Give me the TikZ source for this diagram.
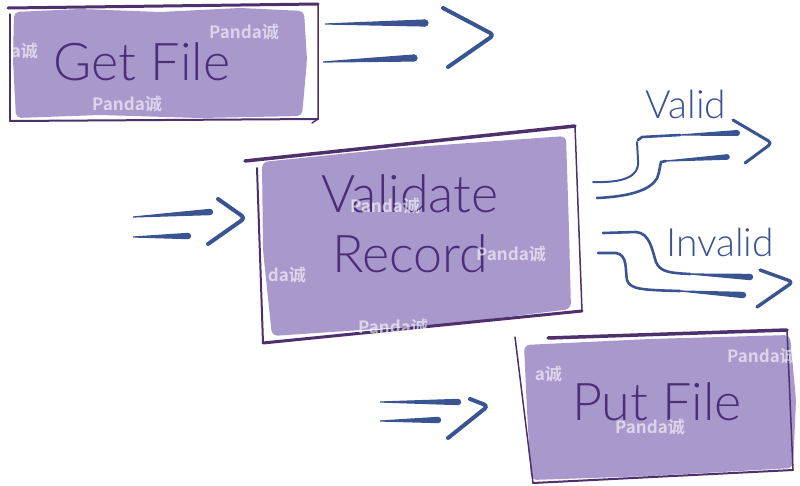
\documentclass[tikz,border=0pt]{standalone}
\usepackage{fontspec}
\usetikzlibrary{calc}
\newfontfamily\lab{Lato Light}
\newfontfamily\wm{Noto Sans CJK SC Bold}
\definecolor{boxfill}{RGB}{168,152,203}
\definecolor{boxline}{RGB}{78,48,108}
\definecolor{textpurple}{RGB}{74,46,120}
\definecolor{arrowblue}{RGB}{58,84,145}
\newcommand\taperline[3]{%
  \fill[arrowblue] ($(#1)+(0,-0.6)$) -- ($(#2)+(0,-#3)$) -- ($(#2)+(0,#3)$) -- ($(#1)+(0,0.6)$) -- cycle;
  \fill[arrowblue] (#2) circle[radius=#3];}
\begin{document}
\begin{tikzpicture}[x=1pt,y=-1pt,
  lbl/.style={text=textpurple, font=\lab\fontsize{52}{54}\selectfont, inner sep=0},
  small/.style={text=arrowblue, font=\lab\fontsize{39}{42}\selectfont, inner sep=0},
  edge/.style={draw=boxline, line cap=round, line join=round},
  chev/.style={draw=arrowblue, line width=4, line cap=round, line join=round, rounded corners=4},
  wave/.style={draw=arrowblue, line width=2.6, line cap=round},
  wmark/.style={text=white, opacity=0.6, font=\wm\fontsize{17}{19}\selectfont, inner sep=0}]
\useasboundingbox[fill=white] (0,0) rectangle (800,485);

% ---------- fills ----------
\fill[boxfill, rounded corners=5] (14,12) -- (80,9) -- (160,12) -- (240,8) -- (304,11) -- (307,60) -- (302,116) -- (200,118) -- (100,115) -- (16,118) -- (13,60) -- cycle;
\fill[boxfill, rounded corners=6] (262,162) -- (400,148) -- (566,136) -- (569,230) -- (571,309) -- (450,324) -- (272,336) -- (263,250) -- cycle;
\fill[boxfill, rounded corners=6] (524,345) -- (650,339) -- (790,335) -- (796,400) -- (793,468) -- (650,476) -- (531,480) -- (527,410) -- cycle;

% ---------- Get File box ----------
\coordinate (g1) at (8,8); \coordinate (g2) at (318,4);
\coordinate (g3) at (318,119); \coordinate (g4) at (10,121);
\draw[edge, line width=3] (g1) -- (g2);
\draw[edge, line width=1.5] (10,14) -- (g4);
\draw[edge, line width=2] (g4) -- (g3);
\draw[edge, line width=1.5] (g2) -- (g3) -- (312,123);
\node[lbl] (get) at (142,62) {Get File};

% ---------- Validate Record box ----------
\coordinate (v1) at (245,161); \coordinate (v2) at (575,126);
\coordinate (v3) at (582,311); \coordinate (v4) at (263,343);
\draw[edge, line width=3.5] (v1) -- (v2);
\draw[edge, line width=2] (257,168) -- (v4);
\draw[edge, line width=3] (v4) -- (v3);
\draw[edge, line width=1.5] (v2) -- (v3);
\node[lbl, align=center] (val) at (410,224) {Validate\\[6pt]Record};

% ---------- Put File box ----------
\coordinate (p1) at (548,338); \coordinate (p2) at (787,330);
\coordinate (p3) at (793,470); \coordinate (p4) at (533,483);
\draw[edge, line width=3.5] (p1) -- (p2);
\draw[edge, line width=1.5] (515,337) -- (p4);
\draw[edge, line width=2] (p4) -- (p3);
\draw[edge, line width=1.5] (p2) -- (p3);
\node[lbl] (put) at (657,402) {Put File};

% ---------- arrow from Get File ----------
\coordinate (a1s) at (325,24); \coordinate (a1e) at (425,23);
\coordinate (a2s) at (323,62); \coordinate (a2e) at (414,58);
\taperline{a1s}{a1e}{3.6}
\taperline{a2s}{a2e}{3.6}
\coordinate (ac1) at (443,8); \coordinate (ac2) at (494,35); \coordinate (ac3) at (448,67);
\draw[chev] (ac1) -- (ac2) -- (ac3);

% ---------- arrow into Validate ----------
\coordinate (b1s) at (133,217); \coordinate (b1e) at (210,212);
\coordinate (b2s) at (133,237); \coordinate (b2e) at (188,236);
\taperline{b1s}{b1e}{3.2}
\taperline{b2s}{b2e}{3.2}
\coordinate (bc1) at (218,199); \coordinate (bc2) at (245,218); \coordinate (bc3) at (208,244);
\draw[chev] (bc1) -- (bc2) -- (bc3);

% ---------- arrow into Put File ----------
\coordinate (c1s) at (380,402); \coordinate (c1e) at (458,402);
\coordinate (c2s) at (380,421); \coordinate (c2e) at (438,420);
\taperline{c1s}{c1e}{3.2}
\taperline{c2s}{c2e}{3.2}
\coordinate (cc1) at (470,399); \coordinate (cc2) at (488,406); \coordinate (cc3) at (448,438);
\draw[chev] (cc1) -- (cc2) -- (cc3);

% ---------- Valid ----------
\node[small] (validlbl) at (686,104) {Valid};
\coordinate (vu0) at (593,182); \coordinate (vu1) at (638,140); \coordinate (vu2) at (737,133);
\coordinate (vl0) at (597,198); \coordinate (vl1) at (661,162); \coordinate (vl2) at (727,157);
\coordinate (vum) at (680,135); \coordinate (vlm) at (666,161);
\draw[wave, line width=2] (vu0) .. controls (625,183) and (640,176) .. (638,160) -- (637,142);
\draw[wave] (vu1) -- (642,137) -- (vum);
\taperline{vum}{vu2}{3}
\draw[wave] (vl0) .. controls (640,196) and (657,186) .. (659,172) -- (vl1) -- (vlm);
\taperline{vlm}{vl2}{2.8}
\coordinate (vc1) at (733,120); \coordinate (vc2) at (772,143); \coordinate (vc3) at (745,163);
\draw[chev, line width=3] (vc1) -- (vc2) -- (vc3);

% ---------- Invalid ----------
\node[small] (invalidlbl) at (720,242) {Invalid};
\coordinate (iu0) at (603,233); \coordinate (iu2) at (750,277); \coordinate (ium) at (690,274);
\coordinate (il0) at (598,253); \coordinate (il2) at (743,295); \coordinate (ilm) at (680,291);
\draw[wave] (iu0) -- (636,232) .. controls (650,233) and (652,250) .. (656,262) .. controls (660,272) and (670,273) .. (ium);
\taperline{ium}{iu2}{3.2}
\draw[wave] (il0) -- (616,253) .. controls (628,255) and (625,270) .. (627,280) .. controls (630,289) and (640,290) .. (ilm);
\taperline{ilm}{il2}{3.2}
\coordinate (ic1) at (760,270); \coordinate (ic2) at (793,282); \coordinate (ic3) at (757,307);
\draw[chev, line width=3.4] (ic1) -- (ic2) -- (ic3);

% ---------- watermarks ----------
\node[wmark] (w1) at (244,32) {Panda诚};
\node[wmark, anchor=east] (w2) at (38,51) {a诚};
\node[wmark] (w3) at (127,104) {Panda诚};
\node[wmark] (w4) at (385,206) {Panda诚};
\node[wmark] (w5) at (511,254) {Panda诚};
\node[wmark, anchor=east] (w6) at (306,275) {da诚};
\node[wmark] (w7) at (393,327) {Panda诚};
\node[wmark, anchor=west] (w8) at (727,356) {Panda诚};
\node[wmark, anchor=east] (w9) at (562,374) {a诚};
\node[wmark] (w10) at (650,427) {Panda诚};
\end{tikzpicture}
\end{document}
